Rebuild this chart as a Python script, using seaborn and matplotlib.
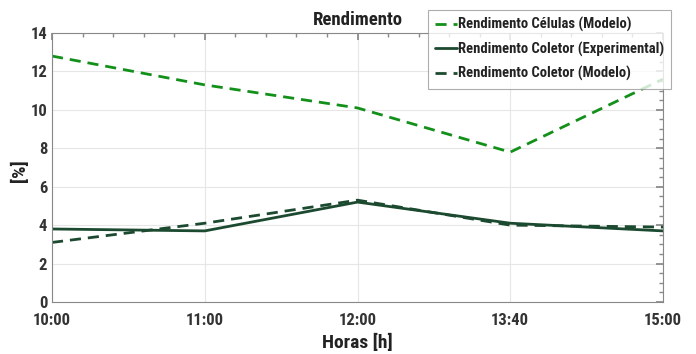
import matplotlib
matplotlib.use("Agg")
import matplotlib.pyplot as plt
from matplotlib.ticker import AutoMinorLocator, MultipleLocator
import seaborn as sns
import pandas as pd

horas = ["10:00", "11:00", "12:00", "13:40", "15:00"]
celulas_modelo = [12.8, 11.3, 10.1, 7.8, 11.6]
coletor_experimental = [3.8, 3.7, 5.2, 4.1, 3.7]
coletor_modelo = [3.1, 4.1, 5.3, 4.0, 3.9]

series = ["Rendimento Células (Modelo)",
          "Rendimento Coletor (Experimental)",
          "Rendimento Coletor (Modelo)"]

df = pd.DataFrame({
    "pos": list(range(len(horas))) * 3,
    "valor": celulas_modelo + coletor_experimental + coletor_modelo,
    "serie": [series[0]] * 5 + [series[1]] * 5 + [series[2]] * 5,
})

sns.set_theme(style="white")
plt.rcParams["font.family"] = ["Roboto Condensed", "Fira Sans Condensed", "DejaVu Sans"]
plt.rcParams["font.weight"] = "bold"

fig = plt.figure(figsize=(6.96, 3.54), dpi=100)
ax = fig.add_axes([52 / 696, 1 - 302 / 354, (663 - 52) / 696, (302 - 33) / 354])

palette = {series[0]: "#13901a", series[1]: "#1c4a30", series[2]: "#1c4a30"}
dashes = {series[0]: (4, 2.5), series[1]: "", series[2]: (4, 2.5)}
sns.lineplot(data=df, x="pos", y="valor", hue="serie", style="serie",
             palette=palette, dashes=dashes, linewidth=2.0, ax=ax, legend=False)

ax.set_xlim(0, len(horas) - 1)
ax.set_ylim(0, 14)
ax.set_xticks(range(len(horas)))
ax.set_xticklabels(horas)
ax.yaxis.set_major_locator(MultipleLocator(2))
ax.xaxis.set_minor_locator(AutoMinorLocator(5))
ax.yaxis.set_minor_locator(AutoMinorLocator(4))
ax.tick_params(which="both", direction="in", top=True, right=True,
               colors="#888888", labelcolor="#333333")
ax.tick_params(which="major", length=5, labelsize=12)
ax.tick_params(which="minor", length=3)
ax.tick_params(axis="x", which="major", pad=8)
for lab in ax.get_xticklabels() + ax.get_yticklabels():
    lab.set_fontweight("bold")
ax.grid(True, which="major", color="#e6e6e6", linewidth=0.8)
for s in ax.spines.values():
    s.set_color("#888888")
    s.set_linewidth(0.8)

ax.set_xlabel("Horas [h]", fontsize=14, fontweight="bold", color="#222222", labelpad=4)
ax.set_ylabel("[%]", fontsize=14, fontweight="bold", color="#222222")
ax.yaxis.set_label_coords(-0.038, 0.49)
ax.set_title("Rendimento", fontsize=13.5, fontweight="bold", color="#222222", pad=6)

handles = [
    plt.Line2D([], [], color=palette[series[0]], lw=2.0, dashes=(4, 2.5)),
    plt.Line2D([], [], color=palette[series[1]], lw=2.0),
    plt.Line2D([], [], color=palette[series[2]], lw=2.0, dashes=(4, 2.5)),
]
leg = fig.legend(handles, series, loc="upper right",
                 bbox_to_anchor=(671 / 696, 1 - 10 / 354),
                 fontsize=10.5, frameon=True, fancybox=False,
                 handlelength=1.5, handletextpad=0.05, borderpad=0.5,
                 labelspacing=0.65, borderaxespad=0)
leg.get_frame().set_edgecolor("#999999")
leg.get_frame().set_linewidth(0.8)
for t in leg.get_texts():
    t.set_fontweight("bold")
    t.set_color("#222222")

fig.savefig("out.png", dpi=100)
